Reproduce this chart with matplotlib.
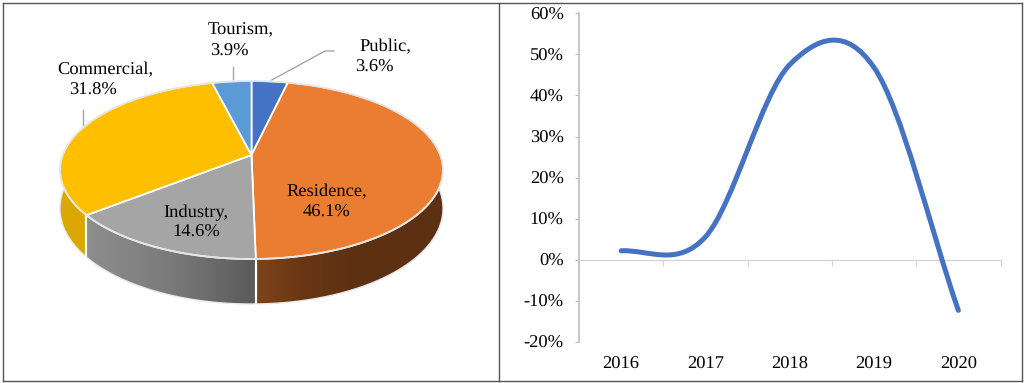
import numpy as np
import matplotlib
matplotlib.use('Agg')
import matplotlib.pyplot as plt
from matplotlib.colors import LinearSegmentedColormap
from matplotlib.path import Path
from matplotlib.patches import PathPatch, Polygon
from matplotlib.lines import Line2D

# pie data, clockwise from 12 o'clock
sectors = ['Public', 'Residence', 'Industry', 'Commercial', 'Tourism']
shares = [3.6, 46.1, 14.6, 31.8, 3.9]
top_colors = ['#4472c4', '#eb7d33', '#a5a5a5', '#fdbf00', '#5b9bd5']

# line data
years = ['2016', '2017', '2018', '2019', '2020']
growth = [2.2, 5.6, 47.5, 46.8, -12.3]
y_ticks = [-20, -10, 0, 10, 20, 30, 40, 50, 60]

plt.rcParams['font.family'] = ['Liberation Serif', 'DejaVu Serif']
plt.rcParams['text.hinting'] = 'none'
FS = 13.3

fig = plt.figure(figsize=(10.24, 3.83), dpi=100)

# whole-figure axes in pixels, used for the frame and the 3d pie
ax = fig.add_axes([0, 0, 1, 1])
ax.axis('off')

CX, CY = 251.5, 155.0
RX, RY, K = 188.8, 86.5, 0.1685


def disk(theta):
    # tilted disk with perspective, theta clockwise from top
    u, v = np.sin(theta), np.cos(theta)
    w = 1 + K * v
    return CX + RX * u / w, CY - RY * v / w


def depth(theta):
    return 37 - 8 * np.cos(theta)


wall_ramps = {
    'Residence': [(0, '#7e441b'), (0.25, '#683615'), (0.5, '#5f3113'), (1, '#5c3012')],
    'Industry': [(0, '#8e8e8e'), (0.5, '#7a7a7a'), (1, '#5a5a5a')],
    'Commercial': [(0, '#daa800'), (1, '#daa800')],
}

bounds = 2 * np.pi * np.cumsum([0] + shares) / sum(shares)

# side walls: only the front half shows
for i, name in enumerate(sectors):
    if name not in wall_ramps:
        continue
    a, b = bounds[i], bounds[i + 1]
    t = np.linspace(max(a, np.pi / 2 - 0.02), min(b, 3 * np.pi / 2 + 0.1), 200)
    x, y = disk(t)
    y2 = y + depth(t)
    wall = Polygon(np.r_[np.c_[x, y], np.c_[x, y2][::-1]], closed=True,
                   facecolor='none', edgecolor='none', zorder=2)
    ax.add_patch(wall)
    cmap = LinearSegmentedColormap.from_list(name, wall_ramps[name])
    im = ax.imshow(np.linspace(0, 1, 256).reshape(1, -1), cmap=cmap, aspect='auto',
                   extent=[x.min(), x.max(), y2.max() + 2, y.min() - 2], zorder=2)
    im.set_clip_path(wall)
    ax.plot(x, y2, color='#e8e8e8', lw=1.0, zorder=3)
    for tt in (a, b):
        if np.pi / 2 < tt < 3 * np.pi / 2:
            px, py = disk(tt)
            ax.plot([px, px], [py, py + depth(tt)], color='white', lw=1.5, zorder=3)
ax.set_xlim(0, 1024)
ax.set_ylim(383, 0)

# top face
for i, c in enumerate(top_colors):
    t = np.linspace(bounds[i], bounds[i + 1], 120)
    x, y = disk(t)
    pts = np.r_[[[CX, CY]], np.c_[x, y]]
    ax.add_patch(Polygon(pts, closed=True, facecolor=c, edgecolor='white', lw=1.3,
                         joinstyle='round', zorder=4))
x, y = disk(np.linspace(0, 2 * np.pi, 300))
ax.plot(x, y, color='#e4e4e4', lw=1.2, zorder=5)

# data labels, two lines placed apart as in the original
label_pos = [(385, 47, 374, 67), (327, 192, 327, 212), (196, 213, 196, 232),
             (105, 70, 93.5, 90), (240.5, 30, 229, 51)]
for s, v, (x1, y1, x2, y2) in zip(sectors, shares, label_pos):
    ax.text(x1, y1, f'{s},', ha='center', va='center', fontsize=FS, zorder=6)
    ax.text(x2, y2, f'{v}%', ha='center', va='center', fontsize=FS, zorder=6)

# leader lines
for xs, ys in [((270, 325, 334), (81, 51, 51)), ((232.5, 232.5), (67, 81)), ((83, 83), (110, 128))]:
    ax.plot(xs, ys, color='#a6a6a6', lw=1.0, zorder=3)

# frame
for xs, ys in [((3, 1022), (2.8, 2.8)), ((3, 1022), (380.5, 380.5)), ((3, 3), (2.8, 380.5)),
               ((498.5, 498.5), (2.8, 380.5)), ((1022, 1022), (2.8, 380.5))]:
    fig.add_artist(Line2D(np.array(xs) / 1024, 1 - np.array(ys) / 383, color='#555555', lw=1.0))

# line chart
L, R, T, B = 579.0, 1000.5, 13.3, 342.0
ax2 = fig.add_axes([L / 1024, 1 - B / 383, (R - L) / 1024, (B - T) / 383])
ax2.patch.set_alpha(0)
xp = np.arange(len(growth))
ax2.set_xlim(-0.5, len(growth) - 0.5)
ax2.set_ylim(-20, 60)

# smoothed line, handles from the neighbouring points
verts = [(xp[0], growth[0])]
codes = [Path.MOVETO]
for i in range(len(growth) - 1):
    if i == 0:
        c1 = (xp[0] + 1 / 3, growth[0] + 0.3)
    else:
        c1 = (xp[i] + 1 / 3, growth[i] + (growth[i + 1] - growth[i - 1]) / 6)
    if i == len(growth) - 2:
        c2 = (xp[i + 1] - 1 / 3, growth[i + 1] + (growth[i] - growth[i + 1]) / 3)
    else:
        c2 = (xp[i + 1] - 1 / 3, growth[i + 1] - (growth[i + 2] - growth[i]) / 6)
    verts += [c1, c2, (xp[i + 1], growth[i + 1])]
    codes += [Path.CURVE4] * 3
ax2.add_patch(PathPatch(Path(verts, codes), facecolor='none', edgecolor='#4472c4', lw=3.6,
                        capstyle='round', clip_on=False, zorder=3))

for s in ('top', 'right'):
    ax2.spines[s].set_visible(False)
ax2.spines['bottom'].set_position(('data', 0))
ax2.spines['bottom'].set_color('#d0d0d0')
ax2.spines['left'].set_color('#bdbdbd')
ax2.spines['left'].set_linewidth(1.2)
ax2.set_yticks(y_ticks)
ax2.set_yticklabels([f'{v}%' for v in y_ticks], fontsize=FS)
ax2.tick_params(axis='y', direction='out', length=3, color='#bdbdbd', pad=8)
ax2.set_xticks(np.arange(len(years) + 1) - 0.5)
ax2.set_xticklabels([])
ax2.tick_params(axis='x', direction='out', length=4, color='#d0d0d0')
for i, yr in enumerate(years):
    ax2.text(i, -23.6, yr, ha='center', va='top', fontsize=FS, clip_on=False)

fig.savefig('out.png', dpi=100)
